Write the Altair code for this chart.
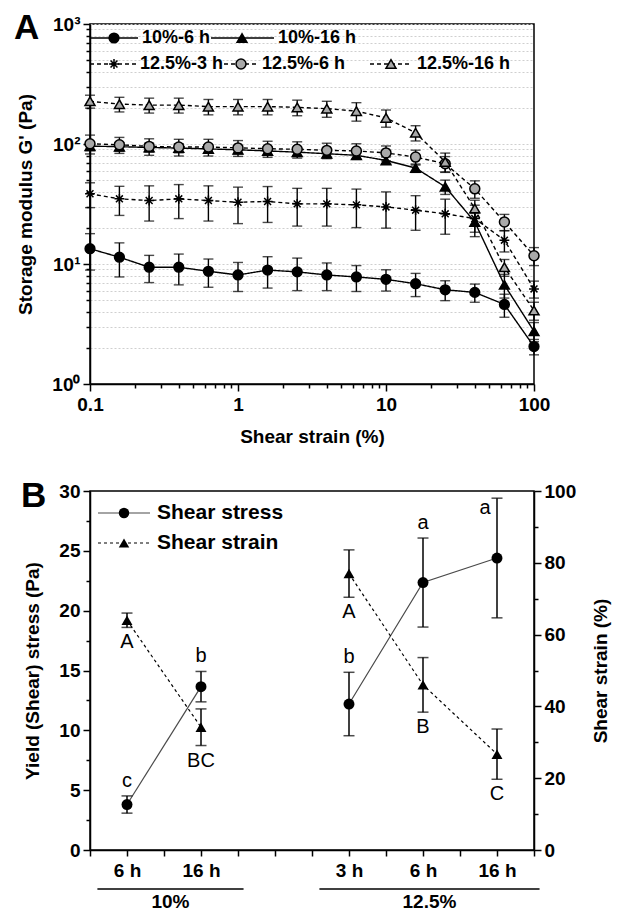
import altair as alt
import pandas as pd

# ---------------- Panel A data (amplitude sweep) ----------------
strain_pct = [0.1, 0.158, 0.251, 0.398, 0.631, 1.0, 1.585, 2.512, 3.981, 6.31,
              10.0, 15.85, 25.12, 39.81, 63.1, 100.0]
series_names = ["10%-6 h", "10%-16 h", "12.5%-3 h", "12.5%-6 h", "12.5%-16 h"]

g_10_6 = [13.4, 11.4, 9.4, 9.4, 8.7, 8.1, 8.9, 8.6, 8.1, 7.8, 7.45, 6.85, 6.1, 5.8, 4.6, 2.05]
sd_10_6 = [4.5, 3.6, 2.4, 2.7, 2.3, 2.2, 2.6, 2.6, 2.1, 1.9, 1.5, 1.5, 1.15, 1.0, 1.0, 0.3]
g_10_16 = [96, 95, 93.5, 92.5, 91, 89.5, 87.5, 85.5, 83, 80.5, 73, 63, 44, 22.4, 6.7, 2.75]
sd_10_16 = [8, 8, 8, 8, 7, 7, 7, 6, 6, 6, 5, 5, 6, 4, 1.5, 0.5]
g_125_3 = [38.5, 34.9, 33.8, 34.9, 33.8, 32.7, 33.2, 31.7, 31.7, 31.1, 29.9, 28.1, 26.2, 23.9, 15.8, 6.2]
sd_125_3 = [9, 9.5, 11, 11, 11, 11, 11, 11, 11, 11, 10, 9, 8.5, 7, 3.2, 1.0]
g_125_6 = [100.6, 98.5, 95.5, 94.4, 94.4, 92.8, 91.4, 90.3, 88.5, 87.5, 84.3, 77.8, 68.5, 42.3, 22.4, 11.7]
sd_125_6 = [18, 15, 15, 15, 15, 14, 14, 14, 13, 13, 12, 11, 10, 7, 3.5, 2]
g_125_16 = [227, 215, 211, 211, 205, 205, 205, 202, 197, 188, 165, 124, 71, 29, 9.4, 4.1]
sd_125_16 = [28, 30, 30, 30, 30, 30, 30, 30, 30, 33, 27, 18, 13, 5, 1.5, 0.7]

# ---------------- Panel B data (yield point) ----------------
b_groups = ["10%", "10%", "12.5%", "12.5%", "12.5%"]
b_times = ["6 h", "16 h", "3 h", "6 h", "16 h"]
stress = [3.8, 13.65, 12.2, 22.35, 24.4]
stress_sd = [0.72, 1.27, 2.65, 3.72, 5.0]
strain_b = [64.0, 34.2, 77.0, 46.0, 26.7]
strain_b_sd = [2.0, 5.1, 6.6, 7.6, 7.0]
stress_letters = ["c", "b", "b", "a", "a"]
strain_letters = ["A", "BC", "A", "B", "C"]

# ---------------- styling ----------------
FONT = "Liberation Sans"
GRAY = "#a9a9a9"
STAR = "M0,-1L0,1M-1,0L1,0M-0.7,-0.7L0.7,0.7M-0.7,0.7L0.7,-0.7"
WA, HA = 444, 360
WB, HB = 444, 359

# ---------------- Panel A ----------------
rows = []
for name, vals, sds in zip(series_names,
                           [g_10_6, g_10_16, g_125_3, g_125_6, g_125_16],
                           [sd_10_6, sd_10_16, sd_125_3, sd_125_6, sd_125_16]):
    for x, v, s in zip(strain_pct, vals, sds):
        rows.append({"series": name, "x": x, "g": v, "lo": v - s, "hi": v + s})
dfA = pd.DataFrame(rows)

x_ticks = [0.1, 0.2, 0.3, 0.4, 0.5, 0.6, 0.7, 0.8, 0.9,
           1, 2, 3, 4, 5, 6, 7, 8, 9, 10, 20, 30, 40, 50, 60, 70, 80, 90, 100]
y_ticks = [1, 2, 3, 4, 5, 6, 7, 8, 9, 10, 20, 30, 40, 50, 60, 70, 80, 90,
           100, 200, 300, 400, 500, 600, 700, 800, 900, 1000]

x_axis_A = alt.Axis(values=x_ticks, grid=False, title="Shear strain (%)",
                    labelExpr="datum.value == 0.1 ? '0.1' : datum.value == 1 ? '1' : datum.value == 10 ? '10' : datum.value == 100 ? '100' : ''",
                    tickSize={"condition": {"test": "indexof([0.1, 1, 10, 100], datum.value) >= 0", "value": 7}, "value": 4},
                    labelFlush=False, labelOverlap=False, labelPadding=4, titlePadding=13)
y_axis_A = alt.Axis(values=y_ticks, grid=True, gridDash=[2, 2], gridColor="#cfcfcf", gridWidth=1,
                    title="Storage modulus G' (Pa)",
                    labelExpr="datum.value == 1 ? '10⁰' : datum.value == 10 ? '10¹' : datum.value == 100 ? '10²' : datum.value == 1000 ? '10³' : ''",
                    tickSize={"condition": {"test": "indexof([1, 10, 100, 1000], datum.value) >= 0", "value": 7}, "value": 4},
                    labelFlush=False, labelOverlap=False, labelPadding=3, titlePadding=16)
xsA = alt.Scale(type="log", domain=[0.1, 100], nice=False)
ysA = alt.Scale(type="log", domain=[1, 1000], nice=False)

shape_scale = alt.Scale(domain=series_names, range=["circle", "triangle-up", STAR, "circle", "triangle-up"])
fill_scale = alt.Scale(domain=series_names, range=["black", "black", "black", GRAY, GRAY])
size_scale = alt.Scale(domain=series_names, range=[95, 100, 190, 95, 100])
dash_scale = alt.Scale(domain=series_names, range=[[1, 0], [1, 0], [4, 3], [4, 3], [4, 3]])

baseA = alt.Chart(dfA)
xA = alt.X("x:Q", scale=xsA, axis=x_axis_A)

linesA = baseA.mark_line(color="black", strokeWidth=1.4).encode(
    x=xA, y=alt.Y("g:Q", scale=ysA, axis=y_axis_A), detail="series:N",
    strokeDash=alt.StrokeDash("series:N", scale=dash_scale, legend=None))
rulesA = baseA.mark_rule(color="black", strokeWidth=1.4).encode(
    x=xA, y=alt.Y("lo:Q", scale=ysA, axis=y_axis_A), y2="hi:Q")
capLoA = baseA.mark_tick(orient="horizontal", size=10, thickness=1.4, color="black").encode(
    x=xA, y=alt.Y("lo:Q", scale=ysA, axis=y_axis_A))
capHiA = baseA.mark_tick(orient="horizontal", size=10, thickness=1.4, color="black").encode(
    x=xA, y=alt.Y("hi:Q", scale=ysA, axis=y_axis_A))
pointsA = baseA.mark_point(filled=True, stroke="black", strokeWidth=1.5, opacity=1).encode(
    x=xA, y=alt.Y("g:Q", scale=ysA, axis=y_axis_A),
    shape=alt.Shape("series:N", scale=shape_scale, legend=None),
    fill=alt.Fill("series:N", scale=fill_scale, legend=None),
    size=alt.Size("series:N", scale=size_scale, legend=None))

# custom in-plot legend (pixel layout)
legA = pd.DataFrame({
    "series": series_names,
    "x1": [0, 121, 0, 134, 280],
    "x2": [48, 184, 46, 168, 322],
    "xm": [24, 152, 24, 151, 301],
    "xt": [52, 188, 50, 172, 327],
    "y": [14, 14, 40, 40, 40],
})
legBaseA = alt.Chart(legA)
legRuleA = legBaseA.mark_rule(color="black", strokeWidth=1.4).encode(
    x=alt.X("x1:Q", scale=None), x2="x2:Q", y=alt.Y("y:Q", scale=None),
    strokeDash=alt.StrokeDash("series:N", scale=dash_scale, legend=None))
legPtA = legBaseA.mark_point(filled=True, stroke="black", strokeWidth=1.5, opacity=1).encode(
    x=alt.X("xm:Q", scale=None), y=alt.Y("y:Q", scale=None),
    shape=alt.Shape("series:N", scale=shape_scale, legend=None),
    fill=alt.Fill("series:N", scale=fill_scale, legend=None),
    size=alt.Size("series:N", scale=size_scale, legend=None))
legTxtA = legBaseA.mark_text(align="left", baseline="middle", font=FONT, fontSize=18,
                             fontWeight="bold", color="black").encode(
    x=alt.X("xt:Q", scale=None), y=alt.Y("y:Q", scale=None), text="series:N")

tagA = alt.Chart(pd.DataFrame({"t": ["A"]})).mark_text(
    align="left", baseline="alphabetic", font=FONT, fontSize=35, fontWeight="bold", color="black"
).encode(x=alt.value(-76), y=alt.value(15), text="t:N")

chartA = alt.layer(linesA, rulesA, capLoA, capHiA, pointsA, legRuleA, legPtA, legTxtA, tagA).properties(
    width=WA, height=HA)

# ---------------- Panel B ----------------
group_order = list(dict.fromkeys(b_groups))
pos = [1 + 2 * i + 2 * group_order.index(g) for i, g in enumerate(b_groups)]
dfB = pd.DataFrame({
    "group": b_groups, "time": b_times, "pos": pos,
    "stress": stress, "s_lo": [m - s for m, s in zip(stress, stress_sd)],
    "s_hi": [m + s for m, s in zip(stress, stress_sd)],
    "strain": strain_b, "e_lo": [m - s for m, s in zip(strain_b, strain_b_sd)],
    "e_hi": [m + s for m, s in zip(strain_b, strain_b_sd)],
    "sl": stress_letters, "el": strain_letters,
})
dfB["left_label"] = [i == len(pos) - 1 for i in range(len(pos))]

lab_expr = " : ".join(f"datum.value == {p} ? '{t}'" for p, t in zip(pos, b_times)) + " : ''"
x_axis_B = alt.Axis(values=list(range(13)), grid=False, title=None, labelExpr=lab_expr,
                    tickSize=6, labelFlush=False, labelOverlap=False, labelPadding=5)
xsB = alt.Scale(domain=[0, 12], nice=False)
xB = alt.X("pos:Q", scale=xsB, axis=x_axis_B)

yl_axis = alt.Axis(values=[v * 2.5 for v in range(13)], grid=False, title="Yield (Shear) stress (Pa)",
                   labelExpr="datum.value % 5 == 0 ? datum.label : ''",
                   tickSize={"condition": {"test": "datum.value % 5 == 0", "value": 7}, "value": 4},
                   labelFlush=False, labelOverlap=False, labelPadding=3, titlePadding=16)
yr_axis = alt.Axis(orient="right", values=list(range(0, 101, 10)), grid=False, title="Shear strain (%)",
                   titleAngle=270, titleBaseline="bottom",
                   labelExpr="datum.value % 20 == 0 ? datum.label : ''",
                   tickSize={"condition": {"test": "datum.value % 20 == 0", "value": 7}, "value": 4},
                   labelFlush=False, labelOverlap=False, labelPadding=3, titlePadding=35)
ysL = alt.Scale(domain=[0, 30], nice=False)
ysR = alt.Scale(domain=[0, 100], nice=False)

baseB = alt.Chart(dfB)
stressLine = baseB.mark_line(color="#4a4a4a", strokeWidth=1.2).encode(
    x=xB, y=alt.Y("stress:Q", scale=ysL, axis=yl_axis), detail="group:N")
stressRule = baseB.mark_rule(color="black", strokeWidth=1.5).encode(
    x=xB, y=alt.Y("s_lo:Q", scale=ysL, axis=yl_axis), y2="s_hi:Q")
stressCapLo = baseB.mark_tick(orient="horizontal", size=11, thickness=1.5, color="black").encode(
    x=xB, y=alt.Y("s_lo:Q", scale=ysL, axis=yl_axis))
stressCapHi = baseB.mark_tick(orient="horizontal", size=11, thickness=1.5, color="black").encode(
    x=xB, y=alt.Y("s_hi:Q", scale=ysL, axis=yl_axis))
stressPts = baseB.mark_point(shape="circle", filled=True, size=120, color="black", opacity=1).encode(
    x=xB, y=alt.Y("stress:Q", scale=ysL, axis=yl_axis))
stressLetTop = baseB.transform_filter("!datum.left_label").mark_text(
    font=FONT, fontSize=20, baseline="middle", dy=-15, color="black").encode(
    x=xB, y=alt.Y("s_hi:Q", scale=ysL, axis=yl_axis), text="sl:N")
stressLetLeft = baseB.transform_filter("datum.left_label").mark_text(
    font=FONT, fontSize=20, baseline="middle", dx=-12, dy=10, color="black").encode(
    x=xB, y=alt.Y("s_hi:Q", scale=ysL, axis=yl_axis), text="sl:N")

# group brackets under the category axis
grp = pd.DataFrame({"group": group_order})
grp["start"] = [min(p for p, g in zip(pos, b_groups) if g == gg) - 0.8 for gg in group_order]
grp["end"] = [max(p for p, g in zip(pos, b_groups) if g == gg) + 1.15 for gg in group_order]
grp["mid"] = (grp["start"] + grp["end"]) / 2
grpRule = alt.Chart(grp).mark_rule(color="black", strokeWidth=1.5).encode(
    x=alt.X("start:Q", scale=xsB, axis=x_axis_B), x2="end:Q", y=alt.value(HB + 39))
grpText = alt.Chart(grp).mark_text(font=FONT, fontSize=19, fontWeight="bold", baseline="middle",
                                   color="black").encode(
    x=alt.X("mid:Q", scale=xsB, axis=x_axis_B), y=alt.value(HB + 52), text="group:N")

# legend B
legB = pd.DataFrame({"name": ["Shear stress", "Shear strain"], "y": [22, 52],
                     "x1": [8, 8], "x2": [60, 60], "xm": [34, 34], "xt": [67, 67],
                     "shape": ["circle", "triangle-up"]})
legBase = alt.Chart(legB)
legRuleB1 = legBase.transform_filter("datum.name == 'Shear stress'").mark_rule(
    color="#4a4a4a", strokeWidth=1.2).encode(
    x=alt.X("x1:Q", scale=None), x2="x2:Q", y=alt.Y("y:Q", scale=None))
legRuleB2 = legBase.transform_filter("datum.name == 'Shear strain'").mark_rule(
    color="black", strokeWidth=1.2, strokeDash=[3, 3]).encode(
    x=alt.X("x1:Q", scale=None), x2="x2:Q", y=alt.Y("y:Q", scale=None))
legPtB = legBase.mark_point(filled=True, size=110, color="black", opacity=1).encode(
    x=alt.X("xm:Q", scale=None), y=alt.Y("y:Q", scale=None),
    shape=alt.Shape("shape:N", scale=None))
legTxtB = legBase.mark_text(align="left", baseline="middle", font=FONT, fontSize=21,
                            fontWeight="bold", color="black").encode(
    x=alt.X("xt:Q", scale=None), y=alt.Y("y:Q", scale=None), text="name:N")

tagB = alt.Chart(pd.DataFrame({"t": ["B"]})).mark_text(
    align="left", baseline="alphabetic", font=FONT, fontSize=35, fontWeight="bold", color="black"
).encode(x=alt.value(-69), y=alt.value(16), text="t:N")

left_group = alt.layer(stressLine, stressRule, stressCapLo, stressCapHi, stressPts,
                       stressLetTop, stressLetLeft, grpRule, grpText,
                       legRuleB1, legRuleB2, legPtB, legTxtB, tagB)

strainLine = baseB.mark_line(color="black", strokeWidth=1.2, strokeDash=[3, 3]).encode(
    x=xB, y=alt.Y("strain:Q", scale=ysR, axis=yr_axis), detail="group:N")
strainRule = baseB.mark_rule(color="black", strokeWidth=1.5).encode(
    x=xB, y=alt.Y("e_lo:Q", scale=ysR, axis=yr_axis), y2="e_hi:Q")
strainCapLo = baseB.mark_tick(orient="horizontal", size=11, thickness=1.5, color="black").encode(
    x=xB, y=alt.Y("e_lo:Q", scale=ysR, axis=yr_axis))
strainCapHi = baseB.mark_tick(orient="horizontal", size=11, thickness=1.5, color="black").encode(
    x=xB, y=alt.Y("e_hi:Q", scale=ysR, axis=yr_axis))
strainPts = baseB.mark_point(shape="triangle-up", filled=True, size=120, color="black", opacity=1).encode(
    x=xB, y=alt.Y("strain:Q", scale=ysR, axis=yr_axis))
strainLet = baseB.mark_text(font=FONT, fontSize=20, baseline="middle", dy=15, color="black").encode(
    x=xB, y=alt.Y("e_lo:Q", scale=ysR, axis=yr_axis), text="el:N")

right_group = alt.layer(strainLine, strainRule, strainCapLo, strainCapHi, strainPts, strainLet)

chartB = alt.layer(left_group, right_group).resolve_scale(y="independent").properties(
    width=WB, height=HB)

chart = alt.vconcat(chartA, chartB, spacing=107, bounds="flush").properties(
    padding={"left": 5, "top": 2, "right": 5, "bottom": 0}
).configure_view(stroke="black", strokeWidth=1.5).configure_axis(
    domainColor="black", domainWidth=1.5, tickColor="black", tickWidth=1.5,
    labelFont=FONT, labelFontSize=19, labelFontWeight="bold", labelColor="black",
    titleFont=FONT, titleFontSize=19, titleFontWeight="bold", titleColor="black")

chart.save("out.html", embed_options={"renderer": "svg", "actions": False})
